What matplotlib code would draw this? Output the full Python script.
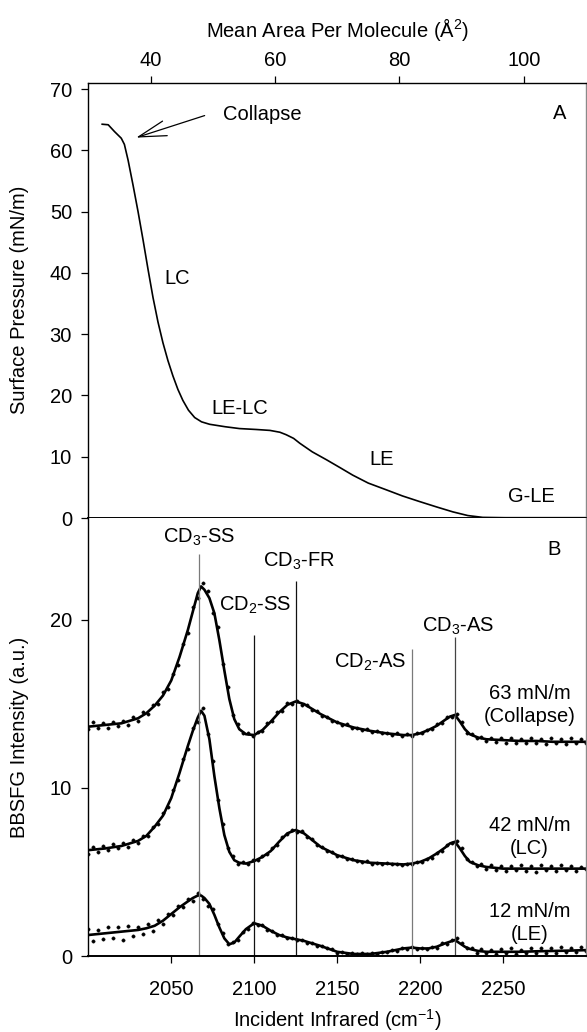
import numpy as np
import matplotlib
matplotlib.use("Agg")
import matplotlib.pyplot as plt

plt.rcParams['font.family'] = ['Liberation Sans', 'DejaVu Sans']
plt.rcParams['font.size'] = 14.5
plt.rcParams['mathtext.fontset'] = 'custom'
plt.rcParams['mathtext.rm'] = 'Liberation Sans'
plt.rcParams['mathtext.it'] = 'Liberation Sans:italic'
plt.rcParams['mathtext.default'] = 'rm'

# ---- Panel A: surface pressure isotherm ----
area = [32.1, 33.2, 34.2, 35.3, 35.8, 36.4, 37.2, 38.0, 38.8, 39.6, 40.4, 41.2,
        42.0, 42.8, 43.6, 44.4, 45.2, 46.1, 47.1, 48.2, 49.5, 52.0, 54.3, 57.0,
        59.2, 60.8, 61.8, 63.0, 64.0, 66.0, 68.3, 70.5, 72.5, 75.0, 77.9, 80.5,
        83.2, 86.0, 88.6, 91.0, 93.4, 97.0, 100.0, 105.0, 110.0]
pressure = [64.3, 64.2, 63.1, 62.0, 61.0, 58.4, 54.3, 50.0, 45.4, 40.6, 36.0, 32.0,
            28.6, 25.7, 23.2, 21.0, 19.2, 17.6, 16.4, 15.7, 15.3, 14.9, 14.6, 14.45,
            14.3, 14.0, 13.6, 13.0, 12.2, 10.8, 9.5, 8.2, 7.0, 5.7, 4.6, 3.6,
            2.7, 1.8, 1.0, 0.4, 0.1, 0.05, 0.05, 0.05, 0.05]
phase_labels = ["LC", "LE-LC", "LE", "G-LE"]
phase_area = [44.3, 54.3, 77.1, 101.2]
phase_pressure = [39.1, 17.8, 9.5, 3.5]

# ---- Panel B: BBSFG spectra ----
wn_start, wn_step = 2000, 3
meas_63 = [13.5, 13.9, 13.55, 13.85, 13.6, 13.95, 13.7, 14.0, 13.75, 14.2,
           14.0, 14.5, 14.4, 14.95, 15.0, 15.7, 15.9, 16.8, 17.35, 18.6,
           19.2, 20.8, 21.3, 22.2, 21.7, 20.4, 19.6, 17.4, 16.0, 14.35,
           13.8, 13.25, 13.3, 13.1, 13.35, 13.4, 13.85, 14.0, 14.5, 14.6,
           15.05, 15.0, 15.2, 14.95, 14.95, 14.65, 14.6, 14.3, 14.25, 14.0,
           13.95, 13.75, 13.8, 13.6, 13.6, 13.45, 13.5, 13.35, 13.4, 13.25,
           13.3, 13.15, 13.25, 13.1, 13.2, 13.1, 13.25, 13.25, 13.45, 13.5,
           13.8, 13.85, 14.2, 14.25, 14.4, 13.95, 13.3, 13.2, 12.95, 13.05,
           12.8, 13.0, 12.75, 12.95, 12.7, 12.95, 12.65, 12.9, 12.7, 12.95,
           12.65, 12.9, 12.6, 12.95, 12.7, 12.9, 12.6, 12.95, 12.7, 12.9,
           12.65]
meas_42 = [6.1, 6.5, 6.2, 6.55, 6.3, 6.65, 6.4, 6.75, 6.5, 6.9,
           6.75, 7.15, 7.15, 7.7, 7.85, 8.5, 8.85, 9.9, 10.45, 11.7,
           12.3, 13.6, 13.9, 14.75, 13.2, 11.6, 9.3, 7.85, 6.4, 5.95,
           5.5, 5.6, 5.45, 5.7, 5.7, 5.95, 6.05, 6.45, 6.6, 7.1,
           7.25, 7.5, 7.4, 7.45, 7.1, 6.95, 6.6, 6.5, 6.25, 6.2,
           5.95, 5.95, 5.75, 5.8, 5.65, 5.6, 5.65, 5.5, 5.55, 5.45,
           5.55, 5.45, 5.5, 5.4, 5.5, 5.45, 5.6, 5.6, 5.8, 5.85,
           6.15, 6.25, 6.6, 6.7, 6.85, 6.4, 5.75, 5.6, 5.35, 5.45,
           5.2, 5.4, 5.1, 5.35, 5.05, 5.35, 5.1, 5.4, 5.05, 5.35,
           5.0, 5.4, 5.1, 5.35, 5.05, 5.4, 5.1, 5.35, 5.05, 5.3,
           5.15]
meas_12 = [1.6, 0.9, 1.55, 1.0, 1.75, 1.1, 1.7, 0.95, 1.8, 1.2,
           1.75, 1.3, 1.9, 1.5, 2.15, 1.9, 2.5, 2.45, 2.95, 2.9,
           3.4, 3.3, 3.75, 3.4, 2.95, 2.8, 1.9, 1.35, 0.7, 0.85,
           0.95, 1.45, 1.6, 1.95, 1.85, 1.85, 1.55, 1.5, 1.25, 1.25,
           1.05, 1.1, 0.95, 0.95, 0.8, 0.8, 0.6, 0.6, 0.45, 0.4,
           0.2, 0.25, 0.12, 0.18, 0.1, 0.16, 0.1, 0.18, 0.12, 0.26,
           0.22, 0.38, 0.32, 0.5, 0.42, 0.55, 0.4, 0.5, 0.4, 0.55,
           0.5, 0.75, 0.72, 0.95, 1.05, 0.75, 0.45, 0.5, 0.2, 0.4,
           0.15, 0.35, 0.1, 0.4, 0.15, 0.45, 0.1, 0.35, 0.15, 0.45,
           0.2, 0.5, 0.15, 0.45, 0.2, 0.55, 0.25, 0.5, 0.25, 0.55,
           0.3]

fit_wn = [2000, 2010, 2020, 2030, 2035, 2040, 2045, 2050, 2055, 2060, 2063, 2066,
          2068, 2070, 2073, 2076, 2079, 2082, 2085, 2088, 2091, 2095, 2100, 2105,
          2110, 2115, 2120, 2125, 2130, 2135, 2140, 2150, 2160, 2170, 2180, 2190,
          2195, 2200, 2205, 2210, 2215, 2218, 2221, 2224, 2227, 2230, 2235, 2240,
          2250, 2260, 2270, 2280, 2290, 2300]
fit_63 = [13.65, 13.75, 13.85, 14.15, 14.45, 14.9, 15.5, 16.4, 17.8, 19.4, 20.5, 21.6,
          22.0, 21.8, 21.3, 20.4, 18.8, 17.0, 15.3, 14.1, 13.5, 13.2, 13.15, 13.45,
          13.95, 14.5, 14.95, 15.15, 15.0, 14.7, 14.4, 13.9, 13.6, 13.4, 13.25, 13.15,
          13.15, 13.25, 13.45, 13.7, 14.05, 14.25, 14.35, 13.95, 13.5, 13.2, 13.0, 12.9,
          12.85, 12.8, 12.8, 12.75, 12.75, 12.75]
fit_42 = [6.3, 6.4, 6.55, 6.85, 7.15, 7.7, 8.35, 9.4, 10.9, 12.5, 13.4, 14.2,
          14.6, 14.3, 12.9, 10.7, 8.8, 7.2, 6.2, 5.7, 5.55, 5.5, 5.65, 5.9,
          6.25, 6.8, 7.3, 7.5, 7.3, 6.9, 6.5, 6.0, 5.7, 5.55, 5.5, 5.45,
          5.5, 5.6, 5.8, 6.1, 6.45, 6.7, 6.8, 6.4, 5.95, 5.6, 5.4, 5.3,
          5.2, 5.2, 5.2, 5.2, 5.2, 5.2]
fit_12 = [1.25, 1.35, 1.45, 1.55, 1.65, 1.8, 2.1, 2.5, 2.9, 3.25, 3.45, 3.6,
          3.6, 3.45, 3.1, 2.45, 1.7, 1.05, 0.7, 0.8, 1.15, 1.6, 1.95, 1.8,
          1.5, 1.25, 1.1, 1.0, 0.9, 0.75, 0.6, 0.25, 0.12, 0.12, 0.25, 0.45,
          0.5, 0.45, 0.45, 0.55, 0.75, 0.85, 0.95, 0.75, 0.55, 0.42, 0.3, 0.25,
          0.25, 0.25, 0.28, 0.3, 0.32, 0.35]

spectrum_names = [("63 mN/m", "(Collapse)"), ("42 mN/m", "(LC)"), ("12 mN/m", "(LE)")]
spectrum_label_y = [(15.65, 14.25), (7.74, 6.37), (2.62, 1.25)]

mode_names = ["CD$_3$-SS", "CD$_2$-SS", "CD$_3$-FR", "CD$_2$-AS", "CD$_3$-AS"]
mode_wn = [2067, 2100, 2125, 2195, 2221]
mode_line_top = [23.9, 19.1, 22.3, 18.3, 19.0]
mode_line_color = ["#7a7a7a", "#111111", "#111111", "#7a7a7a", "#444444"]
mode_label_x = [2067, 2100.5, 2126.8, 2191.4, 2223]
mode_label_y = [24.9, 20.9, 23.5, 17.5, 19.6]
mode_label_ha = ["center", "center", "center", "right", "center"]

W, H = 587, 1032
fig = plt.figure(figsize=(W / 100, H / 100), dpi=100)
left, right = 88.3, 586.0
topA, mid, botB = 82.5, 518.0, 956.0
axA = fig.add_axes([left / W, 1 - mid / H, (right - left) / W, (mid - topA) / H])
axB = fig.add_axes([left / W, 1 - botB / H, (right - left) / W, (botB - mid) / H])

# Panel A
axA.plot(area, pressure, color='black', lw=1.2, solid_capstyle='butt',
         solid_joinstyle='round')
axA.set_xlim(30, 110)
axA.set_ylim(0, 71.1)
axA.xaxis.tick_top()
axA.xaxis.set_label_position('top')
axA.set_xticks([40, 60, 80, 100])
axA.set_yticks(range(0, 71, 10))
axA.set_xlabel("Mean Area Per Molecule (Å$^2$)", labelpad=10)
axA.set_ylabel("Surface Pressure (mN/m)")
axA.yaxis.set_label_coords(-0.12, 0.5)
axA.tick_params(axis='x', which='both', direction='out', length=5, width=0.9,
                top=True, bottom=False, labeltop=True, labelbottom=False, pad=4)
axA.tick_params(axis='y', direction='out', length=4.7, width=0.9, right=False, pad=7)
for name, xa, ya in zip(phase_labels, phase_area, phase_pressure):
    axA.text(xa, ya, name, ha='center', va='center')
axA.text(51.6, 65.8, "Collapse", ha='left', va='center')
axA.text(105.7, 66.1, "A", ha='center', va='center')
axA.annotate('', xy=(37.7, 62.1), xytext=(48.7, 65.7),
             arrowprops=dict(arrowstyle='->,head_length=2.0,head_width=0.55',
                             mutation_scale=10, lw=0.9, color='black',
                             shrinkA=0, shrinkB=0))
axA.spines['left'].set_linewidth(1.0)
axA.spines['top'].set_linewidth(1.0)
axA.spines['bottom'].set_linewidth(1.4)
axA.spines['right'].set_color('#8a8a8a')
axA.spines['right'].set_linewidth(1.0)

# Panel B: measured points with the fitted curves on top
for meas, fit in zip([meas_63, meas_42, meas_12], [fit_63, fit_42, fit_12]):
    wn = np.arange(wn_start, wn_start + wn_step * len(meas), wn_step)
    axB.plot(wn, meas, ls='none', marker='o', ms=2.4, mfc='black', mec='black',
             mew=0.3, clip_on=True)
    axB.plot(fit_wn, fit, color='black', lw=1.9, solid_joinstyle='round')

axB.vlines(mode_wn, 0, mode_line_top, colors=mode_line_color, lw=0.9)
for name, xl, yl, ha in zip(mode_names, mode_label_x, mode_label_y, mode_label_ha):
    axB.text(xl, yl, name, ha=ha, va='center')
for (l1, l2), (y1, y2) in zip(spectrum_names, spectrum_label_y):
    axB.text(2266, y1, l1, ha='center', va='center')
    axB.text(2266, y2, l2, ha='center', va='center')
axB.text(2280.7, 24.2, "B", ha='center', va='center')

axB.set_xlim(2000, 2300)
axB.set_ylim(0, 26.07)
axB.set_xticks([2050, 2100, 2150, 2200, 2250])
axB.set_yticks([0, 10, 20])
axB.set_xlabel("Incident Infrared (cm$^{-1}$)", labelpad=6)
axB.set_ylabel("BBSFG Intensity (a.u.)")
axB.yaxis.set_label_coords(-0.12, 0.5)
axB.tick_params(axis='x', direction='out', length=5, width=0.9, pad=12)
axB.tick_params(axis='y', direction='out', length=4.7, width=0.9, right=False, pad=7)
axB.spines['top'].set_visible(False)
axB.spines['left'].set_linewidth(1.0)
axB.spines['bottom'].set_linewidth(1.4)
axB.spines['right'].set_color('#8a8a8a')
axB.spines['right'].set_linewidth(1.0)

fig.savefig("out.png", dpi=100)
